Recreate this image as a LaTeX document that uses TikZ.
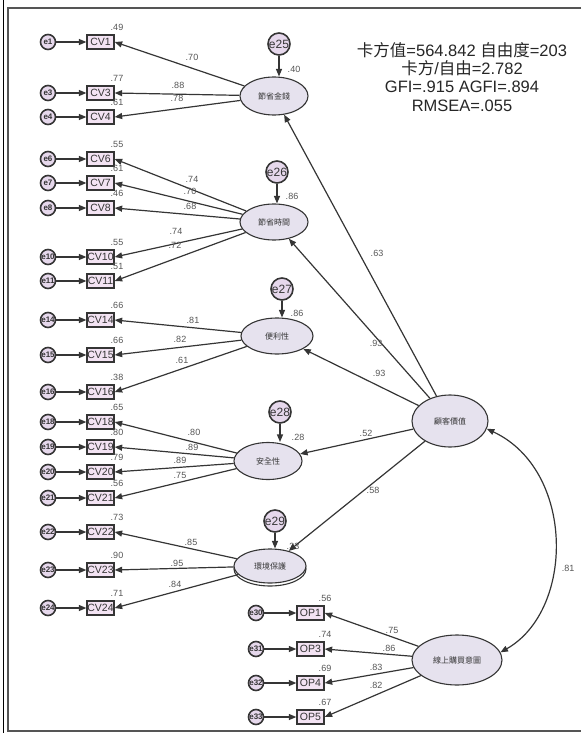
\documentclass[tikz,border=0pt]{standalone}
\usepackage{fontspec}
\setmainfont{Liberation Sans}
\newfontfamily\cjk{Noto Sans CJK TC}
\usetikzlibrary{arrows.meta,shapes.geometric,calc}

\definecolor{ink}{HTML}{353535}
\definecolor{framegray}{HTML}{555555}
\definecolor{boxfill}{HTML}{F3E3F3}
\definecolor{errfill}{HTML}{E6D8EC}
\definecolor{latfill}{HTML}{E6E2EE}
\definecolor{coefgray}{HTML}{555555}
\definecolor{stattext}{HTML}{262626}

\tikzset{
  tip/.tip={Triangle[length=7.5pt,width=6pt]},
  arr/.style={draw=ink, line width=1.2pt, -tip},
  obs/.style={draw=ink, line width=1.3pt, fill=boxfill, minimum width=27pt,
    minimum height=14pt, inner sep=0pt, text=ink, font=\fontsize{10.5}{10.5}\selectfont},
  err/.style={circle, draw=ink, line width=1.6pt, fill=errfill, minimum size=15pt,
    inner sep=0pt, text=ink, font=\bfseries\fontsize{8}{9}\selectfont},
  derr/.style={err, minimum size=22pt, font=\fontsize{12}{12}\selectfont},
  lat/.style={ellipse, draw=ink, line width=1.1pt, fill=latfill, inner sep=0pt,
    minimum width=68pt, minimum height=36pt, text=ink, font=\cjk\fontsize{8}{8}\selectfont},
  coef/.style={text=coefgray, inner sep=0pt, font=\fontsize{9}{9}\selectfont},
  stat/.style={text=stattext, inner sep=0pt, anchor=base, font=\fontsize{16.5}{18}\selectfont},
}

\begin{document}
\begin{tikzpicture}[x=1pt, y=-1pt]
\useasboundingbox (0,0) rectangle (581,733);

% page frame
\draw[black, line width=0.8pt] (3,0) -- (3,733);
\draw[framegray, line width=2pt] (581,8) -- (8,8) -- (8,731) -- (581,731);

% fit statistics
\node[stat] (fit1) at (462,57) {{\cjk 卡方值}=564.842 {\cjk 自由度}=203};
\node[stat] (fit2) at (462,75) {{\cjk 卡方}/{\cjk 自由}=2.782};
\node[stat] (fit3) at (462,93) {GFI=.915 AGFI=.894};
\node[stat] (fit4) at (462,112) {RMSEA=.055};

% observed indicators of customer value with their error terms
\foreach \idx/\yy/\rsq in {1/42/.49, 3/93/.77, 4/117/.61, 6/159/.55, 7/183/.61,
    8/208/.46, 10/257/.55, 11/281/.51, 14/320/.66, 15/355/.66, 16/392/.38,
    18/422/.65, 19/447/.80, 20/472/.79, 21/498/.56, 22/532/.73, 23/570/.90,
    24/608/.71}{
  \node[err] (e\idx) at (48,\yy) {e\idx};
  \node[obs] (cv\idx) at (100.5,\yy) {CV\idx};
  \draw[arr] (e\idx) -- (cv\idx);
  \node[coef] (r\idx) at (117,\yy-15) {\rsq};
}

% observed indicators of online purchase intention
\foreach \idx/\op/\yy/\rsq in {30/1/613/.56, 31/3/649/.74, 32/4/683/.69, 33/5/717/.67}{
  \node[err] (e\idx) at (256,\yy) {e\idx};
  \node[obs] (op\op) at (310.5,\yy) {OP\op};
  \draw[arr] (e\idx) -- (op\op);
  \node[coef] (ro\op) at (325,\yy-15) {\rsq};
}

% first-order factors
\node[lat, minimum height=38pt] (L1) at (274,96) {節省金錢};
\node[lat] (L2) at (274,222) {節省時間};
\node[lat, minimum width=72pt] (L3) at (277,336) {便利性};
\node[lat, minimum height=37pt] (L4) at (268,461) {安全性};
\node[lat, fill=white, minimum width=72pt, minimum height=34pt] (L5s) at (270,569) {};
\node[lat, minimum width=72pt, minimum height=34pt] (L5) at (270,566) {環境保護};

% second-order factor and outcome
\node[lat, minimum width=76pt, minimum height=52pt] (CVal) at (450,421) {顧客價值};
\node[lat, minimum width=90pt, minimum height=50pt] (PI) at (457,660) {線上購買意圖};

% disturbances
\node[derr] (e25) at (279,44) {e25};
\node[derr] (e26) at (277,172) {e26};
\node[derr] (e27) at (282,289) {e27};
\node[derr] (e28) at (280,412) {e28};
\node[derr] (e29) at (275,521) {e29};
\draw[arr] (e25) -- (e25 |- L1.north);
\draw[arr] (e26) -- (e26 |- L2.north);
\draw[arr] (e27) -- (e27 |- L3.north);
\draw[arr] (e28) -- (e28 |- L4.north);
\draw[arr] (e29) -- (e29 |- L5.north);
\node[coef] (r25) at (294,69) {.40};
\node[coef] (r26) at (292,196) {.86};
\node[coef] (r27) at (297,313) {.86};
\node[coef] (r28) at (298,437) {.28};
\node[coef] (r29) at (293,546) {.33};

% factor loadings
\foreach \lat/\idx/\val/\lx/\ly in {L1/1/.70/192/57, L1/3/.88/178/85, L1/4/.78/177/98,
    L2/6/.74/192/179, L2/7/.70/190/191, L2/8/.68/190/206, L2/10/.74/176/231, L2/11/.72/175/245,
    L3/14/.81/193/320, L3/15/.82/180/339, L3/16/.61/182/360,
    L4/18/.80/194/432, L4/19/.89/192/447, L4/20/.89/180/460, L4/21/.75/180/475,
    L5/22/.85/191/542, L5/23/.95/177/563, L5/24/.84/175/584}{
  \draw[arr] (\lat) -- (cv\idx.east);
  \node[coef] (l\idx) at (\lx,\ly) {\val};
}
\foreach \op/\val/\lx/\ly in {1/.75/392/630, 3/.86/389/648, 4/.83/376/667, 5/.82/376/685}{
  \draw[arr] (PI) -- (op\op.east);
  \node[coef] (lo\op) at (\lx,\ly) {\val};
}

% structural paths
\foreach \lat/\val/\lx/\ly in {L1/.63/377/253, L2/.93/376/343, L3/.93/379/373,
    L4/.52/366/433, L5/.58/373/490}{
  \draw[arr] (CVal) -- (\lat);
  \node[coef] (s\lat) at (\lx,\ly) {\val};
}

% covariance between customer value and purchase intention
\draw[draw=ink, line width=1.2pt, tip-tip] (CVal.-12) .. controls (575,470) and (575,610) .. (PI.10);
\node[coef] (cov) at (568,568) {.81};
\end{tikzpicture}
\end{document}
